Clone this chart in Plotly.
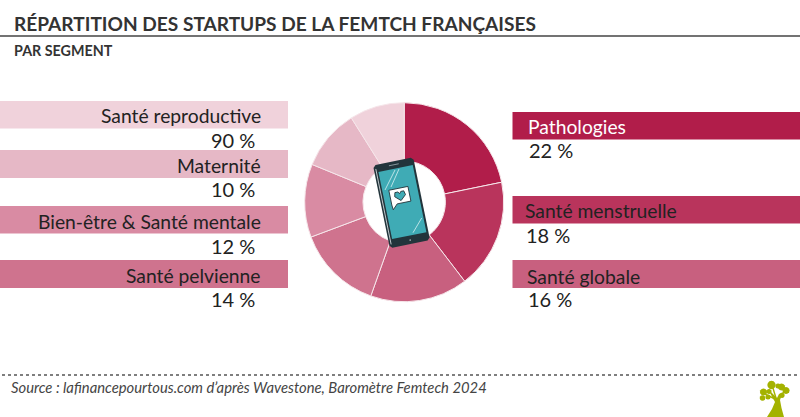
import math
import plotly.graph_objects as go

WIDTH = 800
HEIGHT = 417

# Pie data, clockwise from 12 o'clock
segments = ["Pathologies", "Santé menstruelle", "Santé globale", "Santé pelvienne",
            "Bien-être & Santé mentale", "Maternité", "Santé reproductive"]
# last slice measures about 9 on the picture, even though it is printed as 90 %
values = [22, 18, 16, 14, 12, 10, 9]
value_labels = ["22 %", "18 %", "16 %", "14 %", "12 %", "10 %", "90 %"]
colors = ["#b11d4a", "#b9345c", "#c8607f", "#cf738e", "#d98ba3", "#e6b8c6", "#f0d2db"]

TEXT = "#222222"
FONT = "Lato"


def px(x):
    return x / WIDTH


def py(y):
    return 1 - y / HEIGHT


def rect(x0, y0, x1, y1, color):
    return dict(type="rect", xref="paper", yref="paper", x0=px(x0), x1=px(x1),
                y0=py(y0), y1=py(y1), fillcolor=color, line=dict(width=0), layer="below")


def line(x0, y0, x1, y1, color, width=1.0, dash="solid"):
    return dict(type="line", xref="paper", yref="paper", x0=px(x0), x1=px(x1),
                y0=py(y0), y1=py(y1), line=dict(color=color, width=width, dash=dash))


def path(points, color, close=True, line_color=None, line_width=0):
    d = "M " + " L ".join(f"{px(x):.5f},{py(y):.5f}" for x, y in points)
    if close:
        d += " Z"
    return dict(type="path", xref="paper", yref="paper", path=d,
                fillcolor=color if close else None,
                line=dict(color=line_color or color, width=line_width))


def label(x, y, text, anchor, color=TEXT, size=19.3, **font_extra):
    return dict(xref="paper", yref="paper", x=px(x), y=py(y), text=text, showarrow=False,
                xanchor=anchor, yanchor="middle", borderpad=0,
                font=dict(family=FONT, size=size, color=color, **font_extra))


# phone is drawn in its own tilted frame
PHONE_X, PHONE_Y, TILT = 401.5, 202.5, math.radians(-11.5)


def tilted(u, v):
    return (PHONE_X + u * math.cos(TILT) - v * math.sin(TILT),
            PHONE_Y + u * math.sin(TILT) + v * math.cos(TILT))


def rounded(u0, v0, u1, v1, r):
    pts = [(u0 + r, v0), (u1 - r, v0), (u1, v0 + r), (u1, v1 - r),
           (u1 - r, v1), (u0 + r, v1), (u0, v1 - r), (u0, v0 + r)]
    return [tilted(u, v) for u, v in pts]


def blob(cx, cy, r):
    return [(cx + r * math.cos(i * math.pi / 6), cy + r * math.sin(i * math.pi / 6)) for i in range(12)]


shapes = [
    line(0, 36, WIDTH, 36, "#444444", 1.4),
    line(2, 375, WIDTH, 375, "#555555", 1.6, "dot"),
]

# label bands, left column then right column
left_bands = [(6, 101, 128.5), (5, 150, 178), (4, 206, 233.5), (3, 260, 288)]
right_bands = [(0, 112, 139.5), (1, 196, 223.5), (2, 260, 288)]
for i, y0, y1 in left_bands:
    shapes.append(rect(0, y0, 288, y1, colors[i]))
for i, y0, y1 in right_bands:
    shapes.append(rect(512.5, y0, WIDTH, y1, colors[i]))

# phone
DARK = "#22343b"
TEAL = "#3fabb5"
shapes.append(path(rounded(-20.5, -42, 20.5, 42.5, 2.5), DARK))
shapes.append(path([tilted(-18.5, -38), tilted(-18.5, 39)], None, False, "#e8eef0", 0.8))
shapes.append(path([tilted(-16.5, -34.5), tilted(18.5, -34.5), tilted(18.5, 34), tilted(-16.5, 34)], TEAL))
shapes.append(path([tilted(-5, -38.5), tilted(5, -38.5)], None, False, "#9fb0b5", 0.8))
shapes.append(path(blob(*tilted(1, 38.5), 0.7), "#cfd8da"))
# glass reflections
shapes.append(line(399, 169, 391, 187, "#d8f0f2", 0.8))
shapes.append(line(395, 170, 385, 190, "#d8f0f2", 0.8))
shapes.append(line(421.7, 218, 413, 232.7, "#d8f0f2", 0.8))
# speech bubble with heart
shapes.append(path([tilted(-10, -14.5), tilted(9.5, -14.5), tilted(9.5, 0.5), tilted(-4.5, 0.5),
                    tilted(-9.5, 5.5), tilted(-10, 0.5)], "#ffffff", True, DARK, 0.9))
shapes.append(path([tilted(0, -2), tilted(-5.5, -7), tilted(-4.5, -11), tilted(-1.5, -11),
                    tilted(0, -9), tilted(1.5, -11), tilted(4.5, -11), tilted(5.5, -7)],
                   TEAL, True, DARK, 0.9))

# tree logo
GREEN = "#a4b200"
shapes.append(path([(767, 417), (784, 417), (781.5, 408), (780, 400), (783, 392), (779, 394),
                    (777, 398), (771, 392), (770, 393), (775, 402), (772, 409)], GREEN))
for cx, cy, r in [(771.5, 385, 4.2), (778, 386, 2.6), (781.5, 387, 3.6), (786, 390.5, 3.6),
                  (763.5, 392, 3.6), (769, 391.5, 2.5), (762.5, 398, 2.8), (768, 397, 2.6),
                  (782, 395.5, 2.6)]:
    shapes.append(path(blob(cx, cy, r), GREEN))
shapes.append(line(763, 393, 777, 400, GREEN, 1.4))
shapes.append(line(786, 390, 777, 400, GREEN, 1.4))
shapes.append(line(772, 385, 776, 398, GREEN, 1.4))

annotations = [
    label(13, 24, "RÉPARTITION DES STARTUPS DE LA FEMTCH FRANÇAISES", "left", "#333333", 19.1, weight=700),
    label(13, 50, "PAR SEGMENT", "left", "#333333", 14.3, weight=700),
    label(10, 387, "Source : lafinancepourtous.com d’après Wavestone, Baromètre Femtech 2024", "left",
          "#444444", 14.8, style="italic"),
]

# text x positions follow the reference, the right column is not quite aligned
left_text = [(6, 115, 140), (5, 165, 189), (4, 221, 246), (3, 275, 299)]
right_text = [(0, 527, 126, 528, 150), (1, 523.5, 211, 525, 235), (2, 526, 276, 527, 299)]
for i, y_name, y_value in left_text:
    annotations.append(label(262, y_name, segments[i], "right"))
    annotations.append(label(256, y_value, value_labels[i], "right", size=20))
for i, x_name, y_name, x_value, y_value in right_text:
    annotations.append(label(x_name, y_name, segments[i], "left", "#ffffff" if i == 0 else TEXT))
    annotations.append(label(x_value, y_value, value_labels[i], "left", size=20))

fig = go.Figure(go.Pie(
    labels=segments,
    values=values,
    sort=False,
    direction="clockwise",
    rotation=0,
    hole=0.414,
    textinfo="none",
    marker=dict(colors=colors, line=dict(color="#f6e6ea", width=1)),
    domain=dict(x=[px(404.2 - 99.5), px(404.2 + 99.5)], y=[py(202.2 + 99.5), py(202.2 - 99.5)]),
))

fig.update_layout(
    width=WIDTH,
    height=HEIGHT,
    margin=dict(l=0, r=0, t=0, b=0),
    paper_bgcolor="#ffffff",
    showlegend=False,
    shapes=shapes,
    annotations=annotations,
)

fig.write_html("out.html", config={"displayModeBar": False},
               post_script="document.body.style.margin='0';")
